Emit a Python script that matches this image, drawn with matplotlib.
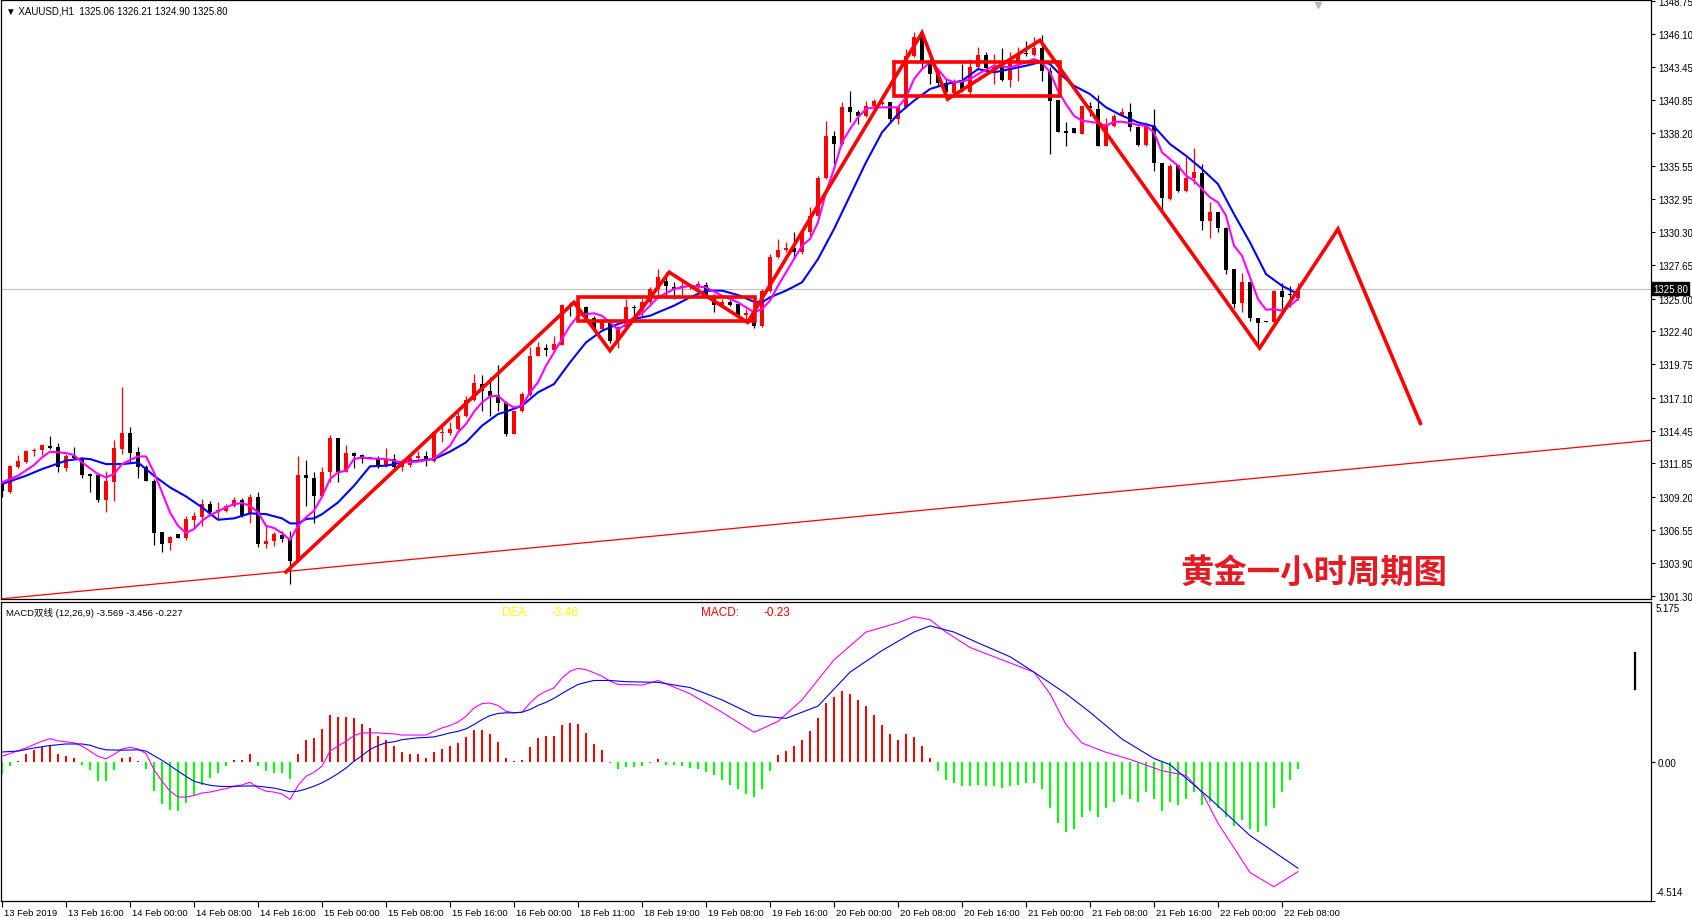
import matplotlib
matplotlib.use('Agg')
import matplotlib.pyplot as plt
import matplotlib.transforms as mtransforms
from matplotlib.patches import Rectangle

# ---------------- DATA ----------------
opens = [1310.21,1309.54,1311.56,1311.99,1312.81,1312.94,1313.21,1313.13,1311.51,1312.44,
         1312.28,1311.00,1310.92,1308.96,1310.39,1313.00,1314.27,1312.73,1311.54,1310.47,
         1306.35,1305.50,1306.22,1305.87,1307.34,1307.60,1308.61,1308.00,1308.08,1308.48,
         1308.96,1307.81,1309.17,1305.45,1305.69,1306.17,1305.87,1304.09,1310.92,1310.69,
         1309.22,1311.14,1313.85,1311.19,1312.68,1312.49,1312.33,1312.20,1311.67,1312.20,
         1311.56,1311.72,1312.31,1312.47,1312.07,1314.27,1314.25,1314.59,1315.60,1316.91,
         1318.16,1317.62,1317.30,1316.67,1314.19,1316.00,1317.30,1320.44,1321.03,1320.92,
         1321.32,1324.43,1324.16,1324.30,1323.42,1322.57,1323.05,1321.64,1322.70,1324.35,
         1324.05,1324.70,1325.76,1326.42,1325.89,1325.94,1325.94,1326.02,1326.08,1324.96,
         1324.48,1324.70,1324.56,1323.69,1323.77,1322.78,1325.63,1328.28,1328.89,1329.00,
         1328.68,1330.28,1331.61,1334.58,1337.93,1337.32,1340.25,1339.85,1339.58,1340.33,
         1340.49,1340.65,1339.32,1340.25,1344.37,1346.17,1343.70,1343.04,1342.16,1341.39,
         1342.37,1341.50,1343.44,1344.42,1343.17,1343.57,1342.45,1343.83,1344.58,1344.42,
         1344.95,1343.17,1340.83,1338.33,1338.57,1338.12,1340.33,1340.12,1337.19,1338.73,
         1339.58,1339.85,1338.65,1337.24,1338.73,1335.81,1332.94,1335.65,1333.60,1334.58,
         1335.01,1331.18,1331.87,1330.60,1327.35,1324.62,1326.29,1323.42,1323.18,1323.10,
         1325.63,1325.36,1325.06]
highs = [1310.47,1311.72,1312.52,1312.89,1313.08,1313.40,1314.01,1313.48,1312.63,1313.13,
         1312.36,1311.08,1311.00,1311.27,1313.72,1317.92,1314.73,1313.13,1311.72,1310.61,
         1306.35,1306.09,1306.22,1307.63,1307.95,1309.01,1308.88,1308.74,1308.59,1309.14,
         1309.06,1309.41,1309.54,1306.88,1306.35,1306.49,1306.43,1312.41,1312.12,1311.14,
         1311.54,1314.11,1313.85,1313.32,1312.79,1312.60,1312.35,1312.47,1313.05,1312.60,
         1312.20,1312.47,1312.87,1312.87,1314.38,1314.73,1315.18,1315.98,1317.25,1318.98,
         1318.90,1318.71,1319.70,1316.85,1316.06,1317.52,1321.11,1321.56,1321.37,1321.98,
         1324.56,1324.75,1324.90,1324.38,1323.58,1323.37,1323.31,1322.83,1324.96,1324.48,
         1324.96,1325.89,1327.35,1327.09,1326.29,1326.29,1326.16,1326.42,1326.29,1325.36,
         1324.96,1324.91,1324.60,1324.16,1323.90,1325.76,1328.55,1329.75,1329.48,1330.28,
         1330.54,1332.27,1334.80,1339.18,1338.39,1340.65,1341.57,1340.06,1340.78,1340.91,
         1340.70,1340.70,1340.33,1344.90,1346.28,1346.28,1344.10,1343.17,1342.50,1342.50,
         1343.70,1344.10,1345.03,1344.63,1344.50,1344.95,1344.63,1345.03,1345.56,1345.83,
         1346.01,1343.44,1340.83,1339.05,1338.57,1340.33,1340.65,1341.23,1339.37,1339.71,
         1340.17,1340.59,1338.73,1339.10,1340.12,1335.81,1335.73,1335.65,1336.26,1336.98,
         1335.73,1332.67,1331.93,1330.68,1327.35,1327.03,1326.29,1323.42,1323.18,1325.71,
         1326.24,1326.02,1326.21]
lows = [1309.14,1309.49,1311.46,1311.88,1312.47,1312.52,1313.00,1311.19,1311.27,1312.20,
        1310.69,1309.60,1308.80,1307.95,1308.88,1312.60,1311.99,1310.69,1310.47,1305.37,
        1304.81,1304.97,1305.93,1305.71,1306.75,1306.88,1307.68,1307.42,1308.00,1308.35,
        1307.55,1307.10,1305.21,1305.08,1305.29,1305.56,1302.23,1304.09,1308.48,1307.07,
        1309.14,1310.39,1310.39,1311.14,1311.46,1311.88,1312.25,1311.46,1311.54,1311.46,
        1311.22,1311.54,1312.20,1311.62,1311.99,1313.53,1314.14,1314.54,1315.52,1316.85,
        1316.06,1315.66,1316.06,1314.01,1314.19,1315.92,1317.25,1320.39,1320.39,1320.84,
        1321.29,1323.58,1324.03,1323.37,1322.43,1322.43,1321.45,1321.03,1322.62,1323.63,
        1323.55,1324.43,1325.23,1325.23,1324.96,1325.23,1325.76,1325.63,1325.10,1323.90,
        1324.30,1324.38,1323.63,1323.23,1322.62,1322.70,1325.55,1328.20,1328.68,1328.15,
        1328.55,1330.01,1331.55,1334.53,1335.73,1337.24,1339.10,1338.92,1339.45,1340.12,
        1340.45,1339.18,1338.96,1340.17,1344.23,1343.30,1342.11,1341.97,1341.04,1341.18,
        1341.44,1341.31,1343.30,1343.30,1342.11,1342.37,1341.84,1342.37,1344.37,1344.37,
        1342.37,1336.52,1338.25,1337.19,1338.20,1338.12,1339.58,1337.19,1337.19,1338.65,
        1339.53,1338.39,1337.19,1337.19,1335.20,1332.14,1332.88,1333.47,1333.52,1334.13,
        1330.49,1329.80,1330.28,1326.95,1324.22,1323.90,1323.23,1321.11,1323.10,1323.05,
        1324.16,1324.30,1324.90]
closes = [1309.68,1311.62,1312.04,1312.81,1312.94,1313.32,1313.08,1311.54,1312.41,1312.31,
          1310.95,1310.82,1308.96,1310.45,1313.05,1314.27,1312.68,1311.54,1310.47,1306.30,
          1305.45,1305.98,1305.93,1307.42,1307.68,1308.61,1308.00,1308.13,1308.48,1308.96,
          1307.68,1309.17,1305.45,1305.66,1306.19,1305.85,1304.09,1310.92,1310.66,1309.22,
          1311.14,1313.85,1311.19,1312.65,1312.47,1312.20,1312.28,1311.75,1312.20,1311.54,
          1311.88,1312.25,1312.47,1312.07,1314.33,1314.33,1314.57,1315.66,1316.91,1318.26,
          1317.60,1317.20,1316.64,1314.19,1316.06,1317.38,1320.44,1321.11,1320.89,1321.37,
          1324.48,1324.35,1324.56,1323.45,1322.57,1323.23,1321.64,1322.70,1324.35,1324.22,
          1324.70,1325.76,1326.69,1325.97,1325.76,1326.02,1326.02,1326.16,1325.23,1324.48,
          1324.70,1324.48,1323.69,1323.82,1322.78,1325.63,1328.28,1328.89,1329.00,1328.68,
          1330.28,1331.61,1334.58,1337.93,1337.32,1340.25,1339.85,1339.58,1340.33,1340.78,
          1340.65,1339.32,1340.25,1344.37,1345.83,1343.97,1342.90,1342.19,1341.44,1342.24,
          1341.71,1343.44,1344.42,1343.36,1343.57,1342.45,1343.83,1344.50,1344.47,1344.95,
          1343.17,1340.78,1338.31,1338.20,1338.20,1340.33,1340.17,1337.19,1338.92,1339.58,
          1339.85,1338.65,1337.24,1338.78,1335.78,1332.99,1335.59,1333.60,1334.58,1335.06,
          1331.21,1331.87,1330.60,1327.30,1324.56,1326.29,1323.42,1323.05,1323.10,1325.63,
          1325.10,1325.28,1325.80]

# moving averages (bar index, price)
ma_fast = [(0,1310.34),(2,1310.87),(4,1311.72),(5,1312.33),(6,1312.79),(8,1312.68),(9,1312.52),
           (10,1311.93),(12,1311.00),(13,1310.74),(14,1311.00),(15,1311.80),(16,1312.12),(17,1312.41),
           (18,1312.41),(19,1311.14),(20,1309.54),(21,1307.95),(22,1306.88),(23,1306.30),(24,1306.62),
           (25,1307.28),(26,1307.73),(27,1308.03),(28,1308.35),(29,1308.61),(30,1308.69),(31,1308.48),
           (32,1307.95),(33,1306.88),(34,1306.70),(35,1306.30),(36,1305.74),(37,1306.88),(38,1307.55),
           (39,1308.08),(40,1309.20),(41,1310.60),(42,1311.14),(43,1311.27),(44,1312.20),(45,1312.33),
           (46,1312.25),(48,1312.20),(50,1311.93),(52,1311.99),(54,1312.25),(55,1312.73),(56,1313.26),
           (57,1314.33),(58,1314.99),(59,1315.98),(60,1316.72),(61,1317.20),(62,1317.25),(63,1316.67),
           (64,1316.32),(65,1316.45),(66,1317.52),(67,1318.32),(68,1319.64),(69,1320.71),(70,1321.77),
           (71,1322.83),(72,1323.63),(73,1323.76),(74,1323.82),(75,1323.63),(76,1323.10),(77,1322.51),
           (78,1322.97),(79,1323.50),(80,1323.80),(81,1324.43),(82,1325.09),(84,1325.76),(86,1326.02),
           (88,1325.89),(90,1325.23),(92,1324.70),(94,1323.90),(95,1324.16),(96,1324.83),(97,1326.02),
           (98,1327.09),(99,1328.15),(100,1329.22),(101,1329.75),(102,1331.08),(103,1333.47),(104,1335.33),
           (105,1337.46),(106,1338.52),(107,1339.45),(108,1340.12),(109,1340.25),(110,1340.25),(111,1340.25),
           (112,1340.25),(113,1341.04),(114,1342.50),(115,1343.30),(116,1343.83),(117,1343.30),(118,1342.50),
           (119,1342.24),(120,1342.30),(121,1342.50),(122,1342.90),(124,1343.57),(126,1343.44),(128,1343.83),
           (129,1344.10),(130,1343.83),(131,1343.04),(132,1341.57),(133,1340.51),(134,1339.58),(135,1339.18),
           (136,1339.10),(137,1339.00),(138,1338.78),(139,1339.10),(140,1339.10),(141,1339.00),(142,1338.84),
           (143,1338.78),(144,1338.25),(145,1336.66),(146,1336.13),(147,1335.59),(148,1334.80),(149,1334.40),
           (150,1333.73),(151,1333.07),(152,1332.67),(153,1331.61),(154,1329.22),(155,1328.42),(156,1326.69),
           (157,1324.96),(158,1324.11),(159,1324.16),(160,1324.03),(161,1324.43),(162,1324.96)]
ma_slow = [(0,1310.21),(3,1310.87),(5,1311.40),(6,1311.62),(8,1312.07),(10,1312.25),(11,1312.20),
           (13,1311.80),(15,1311.80),(17,1311.93),(19,1310.87),(21,1309.94),(23,1309.22),(25,1308.35),
           (27,1307.36),(29,1307.47),(31,1307.87),(33,1307.81),(35,1307.47),(36,1307.07),(37,1307.07),
           (38,1307.42),(39,1307.47),(40,1307.80),(42,1308.74),(44,1310.07),(46,1311.62),(48,1311.67),
           (50,1311.93),(52,1312.07),(54,1312.20),(56,1312.79),(58,1313.53),(60,1314.86),(62,1315.79),
           (63,1315.98),(65,1316.45),(67,1317.52),(69,1318.18),(71,1319.91),(73,1321.50),(75,1322.43),
           (77,1322.97),(79,1323.37),(81,1323.63),(82,1323.90),(84,1324.43),(86,1325.10),(88,1325.63),
           (90,1325.63),(92,1325.28),(94,1324.75),(95,1324.70),(96,1325.10),(98,1325.63),(100,1326.29),
           (102,1328.15),(104,1330.54),(106,1333.20),(108,1335.86),(110,1338.25),(112,1339.71),(114,1340.78),
           (116,1341.71),(118,1342.11),(120,1342.37),(122,1343.30),(124,1343.04),(126,1343.30),(128,1343.57),
           (130,1343.89),(131,1343.70),(132,1343.04),(134,1341.97),(136,1341.31),(138,1340.25),(140,1339.58),
           (142,1339.05),(144,1338.73),(146,1337.32),(148,1336.39),(150,1335.33),(152,1334.13),(154,1331.74),
           (156,1329.48),(158,1326.95),(160,1326.02),(162,1325.36)]

# MACD (12,26,9) histogram, DIF and DEA
macd_hist = [-0.39,-0.15,0.03,0.26,0.37,0.48,0.50,0.26,0.19,0.13,
             -0.12,-0.28,-0.64,-0.64,-0.28,0.13,0.16,0.02,-0.24,-0.94,
             -1.38,-1.58,-1.61,-1.34,-1.09,-0.76,-0.54,-0.36,-0.15,0.05,
             0.05,0.23,-0.15,-0.31,-0.36,-0.37,-0.56,0.26,0.71,0.78,
             1.07,1.52,1.44,1.46,1.42,1.23,1.08,0.84,0.69,0.50,
             0.31,0.25,0.23,0.13,0.32,0.42,0.49,0.61,0.79,1.01,
             1.01,0.89,0.65,0.13,0.01,0.06,0.46,0.75,0.82,0.84,
             1.17,1.26,1.23,0.94,0.58,0.36,-0.06,-0.25,-0.17,-0.17,
             -0.16,-0.06,0.09,-0.10,-0.12,-0.15,-0.20,-0.25,-0.35,-0.45,
             -0.60,-0.75,-0.90,-1.05,-1.15,-0.90,-0.30,0.20,0.35,0.50,
             0.70,1.00,1.40,1.90,2.10,2.30,2.20,2.00,1.80,1.50,
             1.20,0.90,0.70,0.90,0.80,0.50,0.10,-0.30,-0.60,-0.70,
             -0.80,-0.80,-0.75,-0.80,-0.80,-0.85,-0.80,-0.75,-0.70,-0.70,
             -0.90,-1.50,-2.00,-2.30,-2.20,-1.80,-1.60,-1.80,-1.50,-1.30,
             -1.10,-1.20,-1.30,-1.00,-1.20,-1.60,-1.30,-1.40,-1.20,-1.00,
             -1.40,-1.30,-1.50,-1.80,-2.10,-1.90,-2.20,-2.30,-2.10,-1.50,
             -1.00,-0.60,-0.23]
macd_dif = [(0,0.17),(3,0.44),(5,0.66),(6,0.74),(7,0.67),(9,0.61),(10,0.50),(11,0.34),(12,0.17),
            (13,0.09),(14,0.23),(15,0.41),(16,0.46),(17,0.41),(18,0.26),(19,-0.26),(20,-0.64),(21,-0.96),
            (22,-1.15),(23,-1.15),(24,-1.10),(25,-1.02),(26,-0.99),(27,-0.93),(28,-0.88),(29,-0.80),
            (30,-0.76),(31,-0.67),(32,-0.85),(33,-0.96),(34,-0.99),(35,-1.05),(36,-1.23),(37,-0.78),
            (38,-0.48),(39,-0.35),(40,-0.15),(41,0.34),(42,0.50),(43,0.66),(44,0.84),(45,0.93),(47,0.93),
            (48,0.91),(49,0.90),(50,0.86),(53,0.86),(54,0.98),(55,1.09),(56,1.17),(57,1.28),(58,1.47),
            (59,1.74),(60,1.88),(61,1.90),(62,1.82),(63,1.63),(64,1.58),(65,1.60),(66,1.90),(67,2.14),
            (68,2.28),(69,2.39),(70,2.71),(71,2.93),(72,3.02),(73,2.98),(74,2.88),(75,2.77),(76,2.61),
            (77,2.50),(78,2.50),(80,2.48),(81,2.55),(82,2.63),(86,2.20),(90,1.60),(94,0.95),(97,1.30),
            (100,2.00),(104,3.30),(108,4.20),(112,4.50),(114,4.70),(116,4.60),(118,4.20),(121,3.70),
            (125,3.30),(129,2.90),(131,2.20),(133,1.20),(135,0.60),(138,0.30),(141,0.07),(145,-0.30),
            (148,-0.45),(150,-1.00),(152,-2.00),(154,-2.80),(156,-3.60),(159,-4.06),(162,-3.57)]
macd_dea = [(0,0.31),(2,0.34),(4,0.44),(6,0.52),(8,0.57),(10,0.57),(11,0.53),(12,0.44),(13,0.38),
            (15,0.37),(17,0.38),(18,0.34),(19,0.19),(20,0.04),(21,-0.13),(22,-0.31),(23,-0.48),(24,-0.64),
            (25,-0.71),(26,-0.77),(27,-0.80),(28,-0.81),(31,-0.79),(32,-0.80),(33,-0.83),(34,-0.86),
            (35,-0.92),(36,-0.98),(37,-0.96),(38,-0.89),(39,-0.80),(40,-0.69),(41,-0.55),(42,-0.39),
            (43,-0.21),(44,0.01),(45,0.19),(46,0.39),(47,0.52),(48,0.61),(49,0.64),(50,0.71),(51,0.74),
            (52,0.77),(53,0.78),(54,0.80),(55,0.86),(56,0.93),(57,0.98),(58,1.06),(59,1.20),(60,1.36),
            (61,1.49),(62,1.56),(63,1.58),(64,1.58),(65,1.60),(66,1.69),(67,1.82),(68,1.92),(69,2.05),
            (70,2.21),(71,2.36),(72,2.50),(73,2.57),(74,2.63),(76,2.63),(77,2.61),(78,2.59),(80,2.58),
            (82,2.57),(86,2.40),(90,2.00),(94,1.50),(98,1.40),(102,1.80),(106,2.90),(110,3.60),(114,4.20),
            (116,4.40),(119,4.20),(122,3.85),(126,3.40),(129,2.90),(133,2.20),(136,1.60),(140,0.73),
            (144,0.10),(146,-0.10),(151,-1.20),(156,-2.40),(162,-3.46)]

# hand-drawn analysis objects (bar index, price)
zigzag = [(35.5,1303.2),(71.5,1324.7),(76.0,1320.85),(83.4,1327.1),(93.2,1323.1),(115.0,1346.2),
          (118.2,1340.9),(129.75,1345.6),(157.2,1321.05),(167.0,1330.55),(177.3,1315.05)]
boxes = [((72.0,1323.2),(94.1,1325.15)), ((111.5,1341.13),(132.3,1343.89))]
trendline = [(-0.125,1301.05),(206.125,1313.70)]
last_price = 1325.80

price_ticks = [1301.30,1303.90,1306.55,1309.20,1311.85,1314.45,1317.10,1319.75,1322.40,1325.00,
               1327.65,1330.30,1332.95,1335.55,1338.20,1340.85,1343.45,1346.10,1348.75]
time_labels = ['13 Feb 2019','13 Feb 16:00','14 Feb 00:00','14 Feb 08:00','14 Feb 16:00','15 Feb 00:00',
               '15 Feb 08:00','15 Feb 16:00','16 Feb 00:00','18 Feb 11:00','18 Feb 19:00','19 Feb 08:00',
               '19 Feb 16:00','20 Feb 00:00','20 Feb 08:00','20 Feb 16:00','21 Feb 00:00','21 Feb 08:00',
               '21 Feb 16:00','22 Feb 00:00','22 Feb 08:00']
time_label_bars = [8 * k for k in range(len(time_labels))]

# ---------------- FIGURE ----------------
W, H = 1692, 920
fig = plt.figure(figsize=(W / 100, H / 100), dpi=100)
fig.patch.set_facecolor('white')
FONT = ['Liberation Sans', 'Noto Sans CJK SC', 'DejaVu Sans']
plt.rcParams['font.family'] = FONT

def px_axes(x0, y0, x1, y1):
    return fig.add_axes([x0 / W, 1 - y1 / H, (x1 - x0) / W, (y1 - y0) / H])

axp = px_axes(1, 1, 1651, 600)
axm = px_axes(1, 603, 1651, 902)
XL = (-0.125, 206.125)
for ax in (axp, axm):
    ax.set_xlim(*XL)
    for s in ax.spines.values():
        s.set_color('black')
        s.set_linewidth(0.9)
axp.set_ylim(1301.04, 1348.81)
axm.set_ylim(-4.523, 5.175)

RED = '#ff0000'
n = len(closes)
xs = list(range(n))
for i in xs:
    col = RED if closes[i] >= opens[i] else 'black'
    axp.plot([i, i], [lows[i], highs[i]], color=col, lw=0.9, solid_capstyle='butt', zorder=2)
    lo, hi = min(opens[i], closes[i]), max(opens[i], closes[i])
    h = max(hi - lo, 0.09)
    axp.add_patch(Rectangle((i - 0.3, lo), 0.6, h, facecolor=col, edgecolor='none', zorder=3))

axp.plot([p[0] for p in ma_slow], [p[1] for p in ma_slow], color='#0000ff', lw=1.5, zorder=4)
axp.plot([p[0] for p in ma_fast], [p[1] for p in ma_fast], color='#ff00ff', lw=1.5, zorder=5)
axp.axhline(last_price, color='#c0c0c0', lw=0.8, zorder=1)

axp.plot([p[0] for p in trendline], [p[1] for p in trendline], color=RED, lw=0.9, zorder=6)
axp.plot([p[0] for p in zigzag], [p[1] for p in zigzag], color=RED, lw=2.6, zorder=7,
         solid_joinstyle='miter', clip_on=False)
for (x0, y0), (x1, y1) in boxes:
    axp.add_patch(Rectangle((x0, y0), x1 - x0, y1 - y0, facecolor='none', edgecolor=RED, lw=2.6, zorder=7))

axp.set_xticks([])
axp.yaxis.tick_right()
axp.set_yticks(price_ticks)
axp.set_yticklabels(['%.2f' % v for v in price_ticks])
axp.tick_params(axis='y', direction='out', length=3, width=0.8, pad=2, labelsize=7, colors='black')
trans_p = mtransforms.blended_transform_factory(axp.transAxes, axp.transData)
axp.text(1.0 + 2 / 1650, last_price, '%.2f' % last_price, transform=trans_p, ha='left', va='center',
         fontsize=7, color='white', zorder=10,
         bbox=dict(facecolor='black', edgecolor='black', boxstyle='square,pad=0.15'))
axp.text(0.003, 0.982, '\u25bc XAUUSD,H1  %.2f %.2f %.2f %.2f' % (opens[-1], highs[-1], lows[-1], closes[-1]),
         transform=axp.transAxes, fontsize=7, ha='left', va='center', color='black')
axp.plot([164.5], [1348.45], marker='v', color='#b8b8b8', ms=5, clip_on=False, zorder=8)

for i in xs:
    v = macd_hist[i]
    axm.bar(i, v, width=0.34, color=RED if v >= 0 else '#00ff00', linewidth=0, zorder=2)
axm.plot([p[0] for p in macd_dif], [p[1] for p in macd_dif], color='#ff00ff', lw=0.8, zorder=3)
axm.plot([p[0] for p in macd_dea], [p[1] for p in macd_dea], color='#0000ff', lw=0.8, zorder=3)
axm.yaxis.tick_right()
axm.set_yticks([0.0, -4.514])
axm.set_yticklabels(['0.00', ''])
axm.tick_params(axis='y', direction='out', length=3, width=0.8, pad=2, labelsize=7, colors='black')
axm.text(1.0 + 5 / 1650, 0.995, '5.175', transform=axm.transAxes, ha='left', va='top', fontsize=7)
axm.text(1.0 + 5 / 1650, 0.012, '-4.514', transform=axm.transAxes, ha='left', va='bottom', fontsize=7)
axm.plot([0.9905, 0.9905], [0.83, 0.71], transform=axm.transAxes, color='black', lw=1.6, zorder=5)
axm.text(0.003, 0.965, 'MACD双线 (12,26,9) -3.569 -3.456 -0.227', transform=axm.transAxes,
         fontsize=6.8, ha='left', va='center', family=FONT)
axm.text(501 / 1650, 0.965, 'DEA:', transform=axm.transAxes, fontsize=8.5, color='#ffff00', va='center')
axm.text(550 / 1650, 0.965, '-3.46', transform=axm.transAxes, fontsize=8.5, color='#ffff00', va='center')
axm.text(700 / 1650, 0.965, 'MACD:', transform=axm.transAxes, fontsize=8.5, color=RED, va='center')
axm.text(762 / 1650, 0.965, '-0.23', transform=axm.transAxes, fontsize=8.5, color=RED, va='center')

axm.set_xticks(time_label_bars)
axm.set_xticklabels(time_labels)
axm.tick_params(axis='x', direction='out', length=4, width=0.8, pad=1, labelsize=6.8, colors='black')
off = mtransforms.ScaledTranslation(2 / 100, 0, fig.dpi_scale_trans)
for lab in axm.get_xticklabels():
    lab.set_ha('left')
    lab.set_transform(lab.get_transform() + off)

fig.text(1180 / W, 1 - 573 / H, '黄金一小时周期图', fontsize=24, fontweight='bold', color='#e31b23',
         family=['Noto Sans CJK SC', 'DejaVu Sans'], ha='left', va='center')

fig.savefig('out.png', dpi=100, facecolor='white')
